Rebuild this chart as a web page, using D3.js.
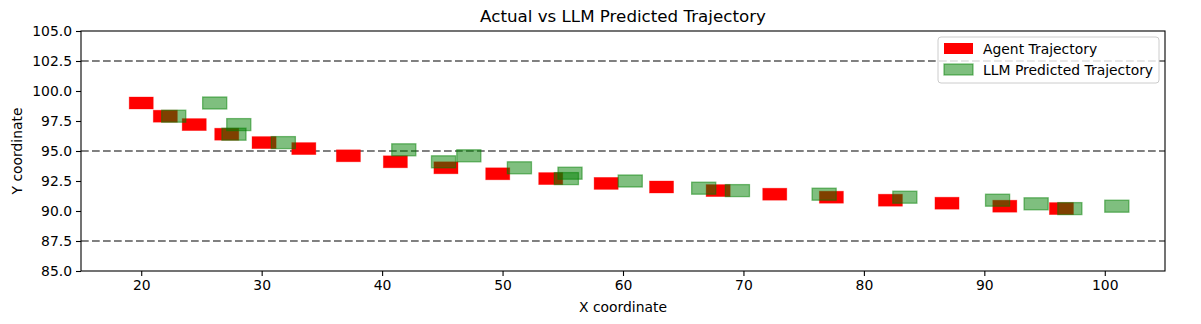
<!DOCTYPE html>
<html>
<head>
<meta charset="utf-8">
<script src="https://cdn.jsdelivr.net/npm/d3@7"></script>
<style>
	body { margin: 0; background: #fff; }
	svg { font-family: "DejaVu Sans", sans-serif; }
</style>
</head>
<body>
<svg id="canvas" width="1201" height="324"></svg>
<script>
// values (rect centres, data units)
var agentX = [20.0, 22.0, 24.4, 27.1, 30.2, 33.5, 37.2, 41.1, 45.3, 49.6, 54.0, 58.6, 63.2, 67.9, 72.6, 77.3, 82.2, 86.9, 91.7, 96.4];
var agentY = [99.0, 97.9, 97.2, 96.4, 95.7, 95.2, 94.6, 94.1, 93.6, 93.1, 92.7, 92.3, 92.0, 91.7, 91.4, 91.15, 90.9, 90.65, 90.4, 90.2];
var llmX = [22.7, 26.1, 28.1, 27.7, 31.8, 41.8, 45.1, 47.2, 51.4, 55.6, 55.3, 60.6, 66.7, 69.5, 76.7, 83.4, 91.1, 94.3, 97.1, 101.0];
var llmY = [97.9, 99.0, 97.2, 96.4, 95.7, 95.1, 94.1, 94.6, 93.6, 93.15, 92.7, 92.5, 91.9, 91.7, 91.4, 91.15, 90.9, 90.6, 90.2, 90.4];
var refLines = [102.5, 95.0, 87.5];
var xTicks = [20, 30, 40, 50, 60, 70, 80, 90, 100];
var yTicks = [85, 87.5, 90, 92.5, 95, 97.5, 100, 102.5, 105];
var legendLabels = ["Agent Trajectory", "LLM Predicted Trajectory"];

var rectW = 2, rectH = 1;
var plotL = 81, plotR = 1165, plotT = 31, plotB = 271;

var svg = d3.select("#canvas");
var x = d3.scaleLinear().domain([15, 105]).range([plotL, plotR]);
var y = d3.scaleLinear().domain([85, 105]).range([plotB, plotT]);

function pts(xs, ys) {
	var out = [];
	for (var i = 0; i < xs.length; i++)
		out.push([xs[i], ys[i]]);
	return out;
}

// dashed reference lines
svg.selectAll("line.ref")
	.data(refLines)
	.enter()
	.append("line")
	.attr("class", "ref")
	.attr("x1", plotL).attr("x2", plotR)
	.attr("y1", function(d){ return y(d); })
	.attr("y2", function(d){ return y(d); })
	.attr("stroke", "#808080")
	.attr("stroke-width", 2)
	.attr("stroke-dasharray", "7.7,3.3");

// agent rects
svg.append("g").selectAll("rect")
	.data(pts(agentX, agentY))
	.enter()
	.append("rect")
	.attr("x", function(d){ return x(d[0] - rectW / 2); })
	.attr("y", function(d){ return y(d[1] + rectH / 2); })
	.attr("width", function(d){ return x(d[0] + rectW / 2) - x(d[0] - rectW / 2); })
	.attr("height", function(d){ return y(d[1] - rectH / 2) - y(d[1] + rectH / 2); })
	.attr("fill", "red")
	.attr("stroke", "red").attr("stroke-opacity", 0.4).attr("stroke-width", 0.8);

// llm rects
svg.append("g").selectAll("rect")
	.data(pts(llmX, llmY))
	.enter()
	.append("rect")
	.attr("x", function(d){ return x(d[0] - rectW / 2); })
	.attr("y", function(d){ return y(d[1] + rectH / 2); })
	.attr("width", function(d){ return x(d[0] + rectW / 2) - x(d[0] - rectW / 2); })
	.attr("height", function(d){ return y(d[1] - rectH / 2) - y(d[1] + rectH / 2); })
	.attr("fill", "green").attr("fill-opacity", 0.5)
	.attr("stroke", "green").attr("stroke-opacity", 0.5).attr("stroke-width", 1.3);

// axes
var xAxis = svg.append("g")
	.attr("transform", "translate(0," + plotB + ")")
	.call(d3.axisBottom(x).tickValues(xTicks).tickSize(5).tickPadding(4).tickSizeOuter(0));
var yAxis = svg.append("g")
	.attr("transform", "translate(" + plotL + ",0)")
	.call(d3.axisLeft(y).tickValues(yTicks).tickSize(5).tickPadding(4).tickSizeOuter(0).tickFormat(d3.format(".1f")));
[xAxis, yAxis].forEach(function(a){
	a.selectAll("text").attr("font-size", "13.9px").attr("fill", "#000").attr("font-family", "DejaVu Sans");
	a.selectAll("line").attr("stroke", "#000").attr("stroke-width", 1.1);
	a.select(".domain").remove();
});

// frame
svg.append("rect")
	.attr("x", plotL).attr("y", plotT)
	.attr("width", plotR - plotL).attr("height", plotB - plotT)
	.attr("fill", "none").attr("stroke", "#000").attr("stroke-width", 1.1);

// labels
svg.append("text").attr("x", (plotL + plotR) / 2).attr("y", 22)
	.attr("text-anchor", "middle").attr("font-size", "16.7px")
	.text("Actual vs LLM Predicted Trajectory");
svg.append("text").attr("x", (plotL + plotR) / 2).attr("y", 312)
	.attr("text-anchor", "middle").attr("font-size", "13.9px")
	.text("X coordinate");
svg.append("text")
	.attr("transform", "translate(22," + ((plotT + plotB) / 2) + ") rotate(-90)")
	.attr("text-anchor", "middle").attr("font-size", "13.9px")
	.text("Y coordinate");

// legend
var lg = svg.append("g").attr("transform", "translate(938,37)");
lg.append("rect")
	.attr("width", 221).attr("height", 46).attr("rx", 3)
	.attr("fill", "#fff").attr("fill-opacity", 0.8)
	.attr("stroke", "#cccccc").attr("stroke-width", 1);
var items = lg.selectAll("g.item")
	.data(legendLabels)
	.enter()
	.append("g")
	.attr("class", "item")
	.attr("transform", function(d, i){ return "translate(6," + (6 + i * 21) + ")"; });
items.append("rect")
	.attr("width", 29).attr("height", 11)
	.attr("fill", function(d, i){ return i == 0 ? "red" : "green"; })
	.attr("fill-opacity", function(d, i){ return i == 0 ? 1 : 0.5; })
	.attr("stroke", function(d, i){ return i == 0 ? "none" : "green"; })
	.attr("stroke-opacity", 0.5).attr("stroke-width", 1.3);
items.append("text")
	.attr("x", 39).attr("y", 11)
	.attr("font-size", "13.9px")
	.text(function(d){ return d; });
</script>
</body>
</html>
